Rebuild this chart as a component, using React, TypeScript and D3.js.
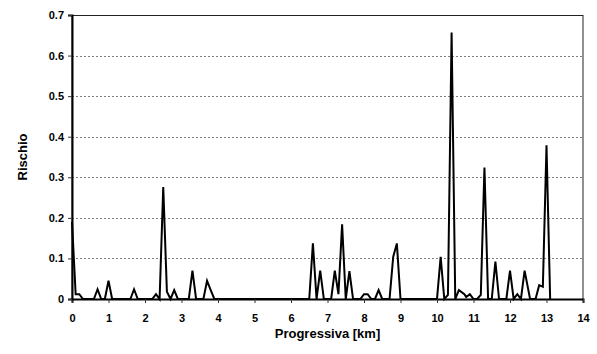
import React, { useEffect, useRef } from "react";
import * as d3 from "d3";

// progressive distance (km) and risk values
const km = [
  0, 0.1, 0.2, 0.3, 0.6, 0.7, 0.8, 0.9, 1.0, 1.1, 1.6, 1.7, 1.8, 2.2, 2.3, 2.4,
  2.5, 2.6, 2.7, 2.8, 2.9, 3.2, 3.3, 3.4, 3.6, 3.7, 3.8, 3.9, 6.5, 6.6, 6.7,
  6.8, 6.9, 7.1, 7.2, 7.3, 7.4, 7.5, 7.6, 7.7, 7.9, 8.0, 8.1, 8.2, 8.3, 8.4,
  8.5, 8.7, 8.8, 8.9, 9.0, 10.0, 10.1, 10.2, 10.3, 10.4, 10.5, 10.6, 10.75,
  10.8, 10.9, 11.0, 11.1, 11.2, 11.3, 11.4, 11.5, 11.6, 11.7, 11.9, 12.0,
  12.1, 12.2, 12.3, 12.4, 12.55, 12.7, 12.8, 12.9, 13.0, 13.1,
];
const rischio = [
  0.19, 0.012, 0.012, 0, 0, 0.024, 0, 0, 0.045, 0, 0, 0.024, 0, 0, 0.012, 0,
  0.276, 0.018, 0, 0.022, 0, 0, 0.07, 0, 0, 0.045, 0.022, 0, 0, 0.137, 0, 0.07,
  0, 0, 0.07, 0.012, 0.184, 0, 0.069, 0, 0, 0.012, 0.012, 0, 0, 0.022, 0, 0,
  0.104, 0.137, 0, 0, 0.104, 0, 0.01, 0.657, 0, 0.022, 0.012, 0.005, 0.012, 0,
  0, 0.01, 0.324, 0, 0, 0.092, 0, 0, 0.07, 0, 0.012, 0, 0.07, 0, 0, 0.034,
  0.03, 0.379, 0,
];
const xTicks = d3.range(0, 15);
const yTicks = [0, 0.1, 0.2, 0.3, 0.4, 0.5, 0.6, 0.7];

const W = 597;
const H = 354;
const margin = { top: 15, right: 14, bottom: 55, left: 72 };

const App = () => {
  const svgRef = useRef<SVGSVGElement>(null);

  useEffect(() => {
    const root = d3.select(svgRef.current);
    root.selectAll("*").remove();

    const width = W - margin.left - margin.right;
    const height = H - margin.top - margin.bottom;

    const x = d3.scaleLinear().domain([0, 14]).range([0, width]);
    const y = d3.scaleLinear().domain([0, 0.7]).range([height, 0]);

    const svg = root
      .append("g")
      .attr("transform", `translate(${margin.left},${margin.top})`);

    // dotted grid
    svg
      .selectAll(".grid")
      .data(yTicks.filter((d) => d > 0 && d < 0.7))
      .join("line")
      .attr("x1", 0)
      .attr("x2", width)
      .attr("y1", (d) => Math.round(y(d)) + 0.5)
      .attr("y2", (d) => Math.round(y(d)) + 0.5)
      .attr("stroke", "#808080")
      .attr("stroke-dasharray", "2,2");

    // frame
    svg
      .append("rect")
      .attr("x", 0)
      .attr("y", 0.5)
      .attr("width", width)
      .attr("height", height)
      .attr("fill", "none")
      .attr("stroke", "#222")
      .attr("stroke-width", 1);

    const data = km.map((k, i) => ({ k, v: rischio[i] }));
    const line = d3
      .line<{ k: number; v: number }>()
      .x((d) => x(d.k))
      .y((d) => y(d.v));

    svg
      .append("path")
      .datum(data)
      .attr("fill", "none")
      .attr("stroke", "black")
      .attr("stroke-width", 2)
      .attr("stroke-linejoin", "miter")
      .attr("d", line);

    const font = "'Liberation Sans', Arial, sans-serif";

    const xAxis = svg
      .append("g")
      .attr("transform", `translate(0,${height})`)
      .call(d3.axisBottom(x).tickValues(xTicks).tickSize(4).tickPadding(11).tickFormat(d3.format("d")));
    xAxis.select(".domain").attr("stroke", "black").attr("stroke-width", 2);
    xAxis.selectAll(".tick line").attr("stroke", "#333");

    const yAxis = svg
      .append("g")
      .call(d3.axisLeft(y).tickValues(yTicks).tickSize(4).tickPadding(4).tickFormat((d) => (d === 0 ? "0" : d3.format(".1f")(d as number))));
    yAxis.select(".domain").attr("stroke", "black").attr("stroke-width", 2);
    yAxis.selectAll(".tick line").attr("stroke", "#333");

    root
      .selectAll(".tick text")
      .attr("font-family", font)
      .attr("font-weight", "bold")
      .attr("font-size", 11)
      .attr("fill", "black");

    svg
      .append("text")
      .attr("x", width / 2)
      .attr("y", height + 39)
      .attr("text-anchor", "middle")
      .attr("font-family", font)
      .attr("font-weight", "bold")
      .attr("font-size", 13)
      .text("Progressiva [km]");

    svg
      .append("text")
      .attr("transform", `translate(${-45},${height / 2}) rotate(-90)`)
      .attr("text-anchor", "middle")
      .attr("font-family", font)
      .attr("font-weight", "bold")
      .attr("font-size", 13)
      .text("Rischio");
  }, []);

  return (
    <svg
      ref={svgRef}
      width={W}
      height={H}
      style={{ position: "absolute", left: 0, top: 0, background: "white" }}
    />
  );
};

export default App;
